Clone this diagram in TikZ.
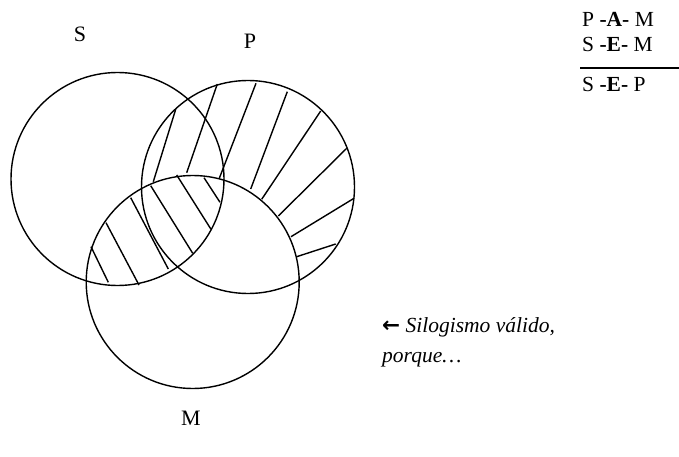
\documentclass[tikz,border=0pt]{standalone}
\usepackage{fontspec}
\setmainfont{Liberation Serif}
\newfontfamily\arrowfont{DejaVu Sans}
\begin{document}
\begin{tikzpicture}[x=1pt,y=-1pt,
  venn/.style={draw=black,line width=1.4pt,circle,minimum size=213pt,inner sep=0pt},
  hatch/.style={draw=black,line width=1.4pt},
  lbl/.style={font=\fontsize{22}{26}\selectfont,inner sep=0pt,anchor=base},
  row/.style={font=\fontsize{21.5}{26}\selectfont,inner sep=0pt,anchor=base west},
  note/.style={font=\fontsize{21.5}{26}\selectfont\itshape,inner sep=0pt,anchor=base west}]
\useasboundingbox (0,0) rectangle (679,457);
% circles
\node[venn] (S) at (117.5,179) {};
\node[venn] (P) at (248,187) {};
\node[venn] (M) at (192.7,282) {};
% hatching: P outside M
\draw[hatch] (153.3,181.7) -- (175.7,109.3);
\draw[hatch] (186.7,172.7) -- (217.3,84);
\draw[hatch] (219.3,178.3) -- (256,83.3);
\draw[hatch] (250.7,189) -- (287.3,91.7);
\draw[hatch] (261.7,199.3) -- (320.7,111);
\draw[hatch] (278.3,216) -- (346.7,148.3);
\draw[hatch] (291,236.7) -- (354,198.3);
\draw[hatch] (296.7,256.7) -- (335.7,244);
% hatching: S inside M
\draw[hatch] (91,246.7) -- (108.3,282.3);
\draw[hatch] (106,222.7) -- (139,285);
\draw[hatch] (130.7,197.7) -- (168.3,269);
\draw[hatch] (150.7,185.7) -- (192.7,253.3);
\draw[hatch] (176.7,175) -- (211,229.3);
\draw[hatch] (204,177.7) -- (220,202.3);
% labels
\node[lbl] (lS) at (80,42) {S};
\node[lbl] (lP) at (250,49) {P};
\node[lbl] (lM) at (191,425) {M};
% syllogism
\node[row] (r1) at (582,27) {P \textbf{-A-} M};
\node[row] (r2) at (582,52) {S \textbf{-E-} M};
\node[row] (r3) at (582,92) {S \textbf{-E-} P};
\coordinate (la) at (580,68);
\coordinate (lb) at (679,68);
\draw[line width=1.2pt] (la) -- (lb);
% note
\node[note] (n1) at (382,332) {{\upshape\arrowfont\bfseries ←} Silogismo válido,};
\node[note] (n2) at (382,362) {porque…};
\end{tikzpicture}
\end{document}
